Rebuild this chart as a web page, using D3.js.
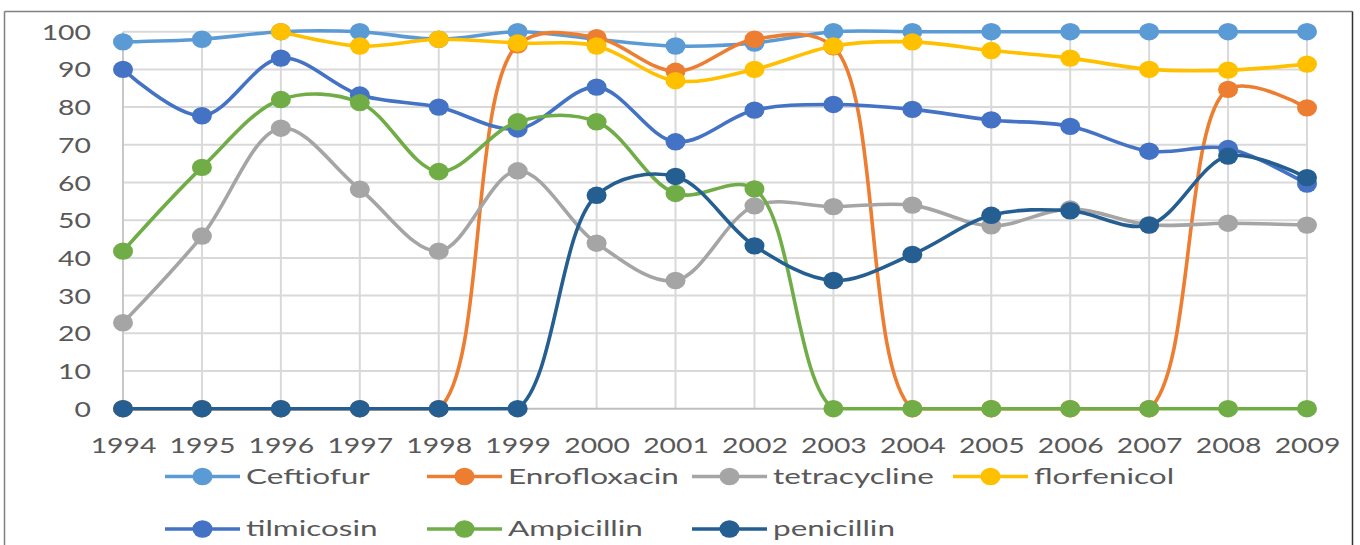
<!DOCTYPE html>
<html>
<head>
<meta charset="utf-8">
<script src="https://cdn.jsdelivr.net/npm/d3@7"></script>
<style>
  html, body { margin: 0; padding: 0; background: #fff; }
  svg { display: block; }
  text { font-family: Lato, "Open Sans", sans-serif; fill: #595959; }
</style>
</head>
<body>
<svg id="chart" width="1360" height="545"></svg>
<script>
// ---- data ----
const years = ["1994","1995","1996","1997","1998","1999","2000","2001","2002","2003","2004","2005","2006","2007","2008","2009"];
const yTicks = [0,10,20,30,40,50,60,70,80,90,100];
const seriesNames = ["Ceftiofur","Enrofloxacin","tetracycline","florfenicol","tilmicosin","Ampicillin","penicillin"];
const ceftiofur    = [97.3, 98, 100, 100, 98, 100, 98, 96.2, 97, 100, 100, 100, 100, 100, 100, 100];
const enrofloxacin = [0, 0, 0, 0, 0, 96.5, 98.4, 89.5, 98, 96, 0, 0, 0, 0, 84.7, 79.8];
const tetracycline = [22.8, 45.8, 74.4, 58.2, 41.8, 63.1, 43.9, 34, 53.8, 53.6, 54, 48.5, 53, 48.8, 49.2, 48.7];
const florfenicol  = [null, null, 100, 96.2, 98, 97, 96.2, 87, 90, 96.2, 97.3, 95, 93, 90, 89.8, 91.4];
const tilmicosin   = [90, 77.7, 93, 83.2, 80, 74.2, 85.3, 70.8, 79.2, 80.7, 79.4, 76.6, 74.9, 68.3, 69, 59.6];
const ampicillin   = [41.8, 64, 82, 81.2, 62.9, 76.1, 76.1, 57.1, 58.3, 0, 0, 0, 0, 0, 0, 0];
const penicillin   = [0, 0, 0, 0, 0, 0, 56.6, 61.6, 43.2, 34, 40.9, 51.3, 52.5, 48.7, 67, 61.3];
const seriesValues = [ceftiofur, enrofloxacin, tetracycline, florfenicol, tilmicosin, ampicillin, penicillin];
const seriesColors = ["#5b9bd5","#ed7d31","#a5a5a5","#ffc000","#4472c4","#70ad47","#255e91"];

// ---- layout ----
const svg = d3.select("#chart");
const K = 1.35;   // horizontal text stretch (axis labels)
const KL = 1.5;   // horizontal text stretch (legend)
const TXT = "#636363";
const x = d3.scalePoint().domain(years).range([123, 1307]);
const y = d3.scaleLinear().domain([0, 100]).range([408.7, 31.7]);

// frame
svg.append("line").attr("x1",4.5).attr("x2",4.5).attr("y1",11.5).attr("y2",545).attr("stroke","#808080").attr("stroke-width",1.5);
svg.append("line").attr("x1",4.5).attr("x2",1352.5).attr("y1",11.5).attr("y2",11.5).attr("stroke","#808080").attr("stroke-width",1.5);
svg.append("line").attr("x1",1352.5).attr("x2",1352.5).attr("y1",11.5).attr("y2",545).attr("stroke","#333").attr("stroke-width",1.5);

// gridlines
const grid = svg.append("g");
grid.selectAll("line.h").data(yTicks.filter(v => v !== 0)).join("line")
  .attr("x1", x(years[0])).attr("x2", x(years[years.length-1]))
  .attr("y1", d => y(d)).attr("y2", d => y(d))
  .attr("stroke", "#d9d9d9").attr("stroke-width", 2);
grid.selectAll("line.v").data(years).join("line")
  .attr("x1", d => x(d)).attr("x2", d => x(d))
  .attr("y1", y(100)).attr("y2", y(0))
  .attr("stroke", (d,i) => i === 0 ? "#c8c8c8" : "#d9d9d9").attr("stroke-width", 2);

// axes
const yAxis = svg.append("g").attr("transform", `translate(${x(years[0])},0)`)
  .call(d3.axisLeft(y).tickValues(yTicks).tickSize(0).tickFormat(d3.format("d")));
yAxis.select(".domain").remove();
yAxis.selectAll("text").attr("font-size", 21).attr("font-family", "Lato").attr("fill", TXT)
  .attr("x", -32 / K).attr("dy", "0.36em").attr("transform", `scale(${K},1)`);

const xAxis = svg.append("g").attr("transform", `translate(0,${y(0)})`)
  .call(d3.axisBottom(x).tickSize(0).tickPadding(0));
xAxis.select(".domain").attr("stroke", "#bfbfbf").attr("stroke-width", 2)
  .attr("d", `M${x(years[0])},0H${x(years[years.length-1])}`);
xAxis.selectAll("text").attr("font-size", 21).attr("font-family", "Lato").attr("fill", TXT)
  .attr("y", 44).attr("dy", 0).attr("transform", `scale(${K},1)`);

// series: smoothed lines; bezier control points kept above the zero line (no dips below 0)
const line = d3.line()
  .defined(d => d != null)
  .x((d, i) => x(years[i]))
  .y(d => y(d))
  .curve(d3.curveCatmullRom.alpha(0.5));

function smoothPath(vals) {
  const p = d3.path();
  const y0 = y(0);
  const ctx = {
    moveTo: (a, b) => p.moveTo(a, b),
    lineTo: (a, b) => p.lineTo(a, b),
    bezierCurveTo: (a, b, c, d, e, f) => p.bezierCurveTo(a, Math.min(b, y0), c, Math.min(d, y0), e, f),
    closePath: () => p.closePath()
  };
  line.context(ctx)(vals);
  line.context(null);
  return p.toString();
}

seriesValues.forEach((vals, si) => {
  const g = svg.append("g");
  g.append("path").attr("d", smoothPath(vals))
    .attr("fill", "none").attr("stroke", seriesColors[si]).attr("stroke-width", 3.6)
    .attr("stroke-linejoin", "round").attr("stroke-linecap", "round");
  g.selectAll("ellipse").data(vals.map((v, i) => ({v, i})).filter(d => d.v != null)).join("ellipse")
    .attr("cx", d => x(years[d.i])).attr("cy", d => y(d.v))
    .attr("rx", 10).attr("ry", 8.7).attr("fill", seriesColors[si]);
});

// legend
const legCols = [165, 427, 692, 953];
const legRows = [476.5, 529];
seriesNames.forEach((name, i) => {
  const lx = legCols[i < 4 ? i : i - 4];
  const ly = legRows[i < 4 ? 0 : 1];
  const g = svg.append("g");
  g.append("line").attr("x1", lx).attr("x2", lx + 75).attr("y1", ly).attr("y2", ly)
    .attr("stroke", seriesColors[i]).attr("stroke-width", 3.6);
  g.append("ellipse").attr("cx", lx + 37.5).attr("cy", ly).attr("rx", 10).attr("ry", 8.7).attr("fill", seriesColors[i]);
  g.append("text").attr("font-size", 21).attr("font-family", "Lato").attr("fill", TXT)
    .attr("transform", `translate(${lx + 81},${ly + 7}) scale(${KL},1)`)
    .text(name);
});
</script>
</body>
</html>
